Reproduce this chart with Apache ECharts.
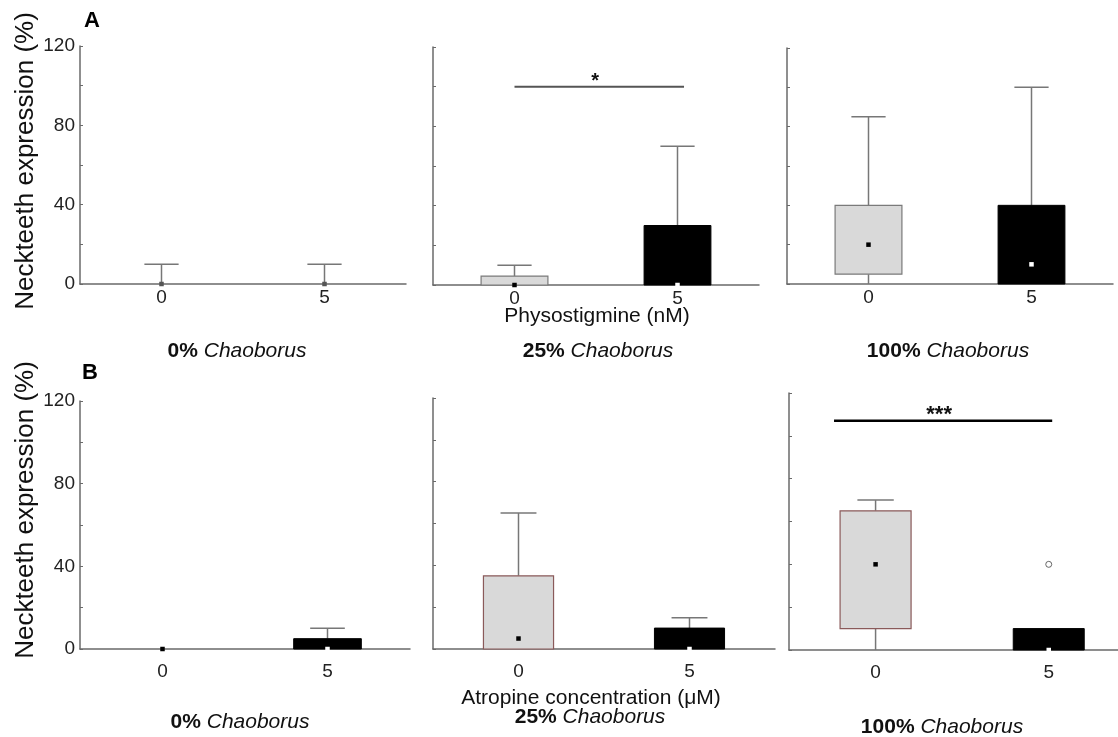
<!DOCTYPE html>
<html>
<head>
<meta charset="utf-8">
<script src="https://cdn.jsdelivr.net/npm/echarts@6/dist/echarts.min.js"></script>
<style>
  html, body { margin: 0; padding: 0; background: #fff; }
  #chart { width: 1118px; height: 737px; }
</style>
</head>
<body>
<div id="chart"></div>
<script>
// ---------------- data ----------------
const groups = [0, 5];                           // x values (concentration)
const xTickLabels = [0, 5];                      // labelled x ticks
const yTickLabels = [0, 40, 80, 120];            // labelled y ticks
const panelLevels = ['0%', '25%', '100%', '0%', '25%', '100%']; // Chaoborus level per panel (A row, B row)
// box statistics per panel: [group 0, group 5]
const whiskerLow  = [[0, 0], [0, 0], [0, 0],   [0, 0], [0, 0],  [0, 0]];
const quartile1   = [[0, 0], [0, 0], [5, 0],   [0, 0], [0, 0],  [10, 0]];
const medians     = [[0, 0], [0, 0], [20, 10], [0, 0], [5, 0],  [40, 0]];
const quartile3   = [[0, 0], [4.5, 30], [40, 40], [0, 5], [35, 10], [65, 10]];
const whiskerHigh = [[10, 10], [10, 70], [85, 100], [0, 10], [65, 15], [70, 10]];
const outliers    = [[], [], [], [], [], [[5, 40]]];        // [concentration, value]
// significance bars: [panel, fromX, toX, yValue, label]
const sigBars = [[1, 0, 5.2, 100, '*'], [5, -1.2, 5.1, 107, '***']];
const xTitles = ['Physostigmine (nM)', 'Atropine concentration (\u03bcM)'];
const yTitle = 'Neckteeth expression (%)';

// ---------------- layout / style ----------------
const FONT = "'Liberation Sans', Arial, sans-serif";
const grids = [
  { left: 80,  top: 46,  width: 326, height: 238 },
  { left: 433, top: 47,  width: 326, height: 238 },
  { left: 787, top: 48,  width: 326, height: 236 },
  { left: 80,  top: 401, width: 330, height: 248 },
  { left: 433, top: 398, width: 342, height: 251 },
  { left: 789, top: 393, width: 329, height: 257 }
];
const xRanges = [[-2.5, 7.5], [-2.5, 7.5], [-2.5, 7.5], [-2.5, 7.5], [-2.5, 7.5], [-2.5, 7]];
const AXIS_COLOR = '#6a6a6a';
const WHISKER_COLOR = '#777';

const xAxes = [], yAxes = [], series = [];
grids.forEach((g, p) => {
  const rowB = p >= 3;
  xAxes.push({
    gridIndex: p, type: 'value', min: xRanges[p][0], max: xRanges[p][1], interval: 2.5,
    axisLine: { onZero: false, lineStyle: { color: AXIS_COLOR, width: 1.5 } },
    axisTick: { show: false },
    axisLabel: {
      color: '#222', fontSize: 19, fontFamily: FONT, margin: rowB ? 13 : 4,
      showMinLabel: false, showMaxLabel: false,
      formatter: v => (xTickLabels.indexOf(v) >= 0 ? String(v) : '')
    },
    splitLine: { show: false }
  });
  yAxes.push({
    gridIndex: p, type: 'value', min: 0, max: 120, interval: 20,
    axisLine: { show: true, onZero: false, lineStyle: { color: AXIS_COLOR, width: 1.5 } },
    axisTick: { show: true, inside: true, length: 3, lineStyle: { color: AXIS_COLOR } },
    axisLabel: {
      show: p % 3 === 0, color: '#222', fontSize: 19, fontFamily: FONT, margin: 5,
      formatter: v => (yTickLabels.indexOf(v) >= 0 ? String(v) : '')
    },
    splitLine: { show: false }
  });

  const boxData = groups.map((c, i) => [c, whiskerLow[p][i], quartile1[p][i], medians[p][i], quartile3[p][i], whiskerHigh[p][i], i]);
  series.push({
    type: 'custom', xAxisIndex: p, yAxisIndex: p, clip: false,
    encode: { x: 0, y: [1, 2, 3, 4, 5] },
    data: boxData,
    renderItem: (params, api) => {
      const xv = api.value(0);
      const vMin = api.value(1), vQ1 = api.value(2), vMed = api.value(3), vQ3 = api.value(4), vMax = api.value(5);
      const gi = api.value(6);
      const unit = api.size([1, 0])[0];
      const spacing = unit * (groups[1] - groups[0]);
      const w = spacing * 0.41, cap = spacing * 0.21;
      const pMin = api.coord([xv, vMin]), pQ1 = api.coord([xv, vQ1]), pMed = api.coord([xv, vMed]);
      const pQ3 = api.coord([xv, vQ3]), pMax = api.coord([xv, vMax]);
      const cx = pMed[0];
      const children = [];
      const ls = { stroke: WHISKER_COLOR, lineWidth: 1.5 };
      if (vMax > vQ3) {
        children.push({ type: 'line', shape: { x1: cx, y1: pQ3[1], x2: cx, y2: pMax[1] }, style: ls });
        children.push({ type: 'line', shape: { x1: cx - cap / 2, y1: pMax[1], x2: cx + cap / 2, y2: pMax[1] }, style: ls });
      }
      if (vQ1 > vMin) {
        children.push({ type: 'line', shape: { x1: cx, y1: pQ1[1], x2: cx, y2: pMin[1] }, style: ls });
      }
      const dark = gi === 1;
      const hasBox = vQ3 > vQ1;
      if (hasBox) {
        children.push({
          type: 'rect',
          shape: { x: cx - w / 2, y: pQ3[1], width: w, height: pQ1[1] - pQ3[1] },
          style: dark ? { fill: '#000', stroke: '#000', lineWidth: 1 }
                      : { fill: '#d9d9d9', stroke: p >= 3 ? '#8a5a5a' : '#7a7a7a', lineWidth: 1.2 }
        });
      }
      const ms = 4.5;
      let mc = dark ? (hasBox ? '#fff' : '#555') : '#000';
      if (p === 0) mc = '#555';
      children.push({ type: 'rect', shape: { x: cx - ms / 2, y: pMed[1] - ms / 2, width: ms, height: ms }, style: { fill: mc } });
      return { type: 'group', children };
    },
    z: 3
  });

  if (outliers[p].length) {
    series.push({
      type: 'scatter', xAxisIndex: p, yAxisIndex: p, data: outliers[p],
      symbol: 'circle', symbolSize: 6,
      itemStyle: { color: '#fff', borderColor: '#444', borderWidth: 1 }, z: 4
    });
  }
});

sigBars.forEach(sb => {
  const [p, from, to, yv, label] = sb;
  series.push({
    type: 'custom', xAxisIndex: p, yAxisIndex: p, clip: false,
    encode: { x: [0, 1], y: 2 },
    data: [[from, to, yv]],
    renderItem: (params, api) => {
      const a = api.coord([api.value(0), api.value(2)]);
      const b = api.coord([api.value(1), api.value(2)]);
      const isA = p < 3;
      return {
        type: 'group', children: [
          { type: 'line', shape: { x1: a[0], y1: a[1], x2: b[0], y2: a[1] },
            style: { stroke: isA ? '#555' : '#000', lineWidth: isA ? 2 : 2.5 } },
          { type: 'text', x: (a[0] + b[0]) / 2 - 4, y: a[1] + 5,
            style: { text: label, fontFamily: FONT, fontWeight: 'bold', fontSize: isA ? 20 : 22,
                     fill: '#111', align: 'center', verticalAlign: 'bottom' } }
        ]
      };
    },
    z: 5
  });
});

// ---------------- texts ----------------
const centersTop = [237, 598, 948], centersBot = [240, 590, 942];
const levelY = [351, 351, 351, 722, 717, 727];
const graphics = [];
panelLevels.forEach((lv, i) => {
  const cx = i < 3 ? centersTop[i] : centersBot[i - 3];
  graphics.push({
    type: 'text', x: cx, y: levelY[i],
    style: {
      text: '{b|' + lv + '} {i|Chaoborus}', fill: '#111', fontSize: 21, fontFamily: FONT,
      align: 'center', verticalAlign: 'middle',
      rich: { b: { fontWeight: 'bold', fontSize: 21, fontFamily: FONT, fill: '#111' },
              i: { fontStyle: 'italic', fontSize: 21, fontFamily: FONT, fill: '#111' } }
    }
  });
});
graphics.push({ type: 'text', x: 597, y: 316, style: { text: xTitles[0], fontSize: 21, fontFamily: FONT, fill: '#111', align: 'center', verticalAlign: 'middle' } });
graphics.push({ type: 'text', x: 591, y: 698, style: { text: xTitles[1], fontSize: 21, fontFamily: FONT, fill: '#111', align: 'center', verticalAlign: 'middle' } });
graphics.push({ type: 'text', x: 26, y: 161, rotation: Math.PI / 2, style: { text: yTitle, fontSize: 26, fontFamily: FONT, fill: '#111', align: 'center', verticalAlign: 'middle' } });
graphics.push({ type: 'text', x: 26, y: 510, rotation: Math.PI / 2, style: { text: yTitle, fontSize: 26, fontFamily: FONT, fill: '#111', align: 'center', verticalAlign: 'middle' } });
graphics.push({ type: 'text', x: 92, y: 21, style: { text: 'A', fontSize: 22, fontWeight: 'bold', fontFamily: FONT, fill: '#000', align: 'center', verticalAlign: 'middle' } });
graphics.push({ type: 'text', x: 90, y: 373, style: { text: 'B', fontSize: 22, fontWeight: 'bold', fontFamily: FONT, fill: '#000', align: 'center', verticalAlign: 'middle' } });

const chart = echarts.init(document.getElementById('chart'), null, { renderer: 'canvas' });
chart.setOption({
  backgroundColor: '#fff',
  animation: false,
  grid: grids.map(g => Object.assign({ containLabel: false }, g)),
  xAxis: xAxes,
  yAxis: yAxes,
  series: series,
  graphic: graphics
});
</script>
</body>
</html>
